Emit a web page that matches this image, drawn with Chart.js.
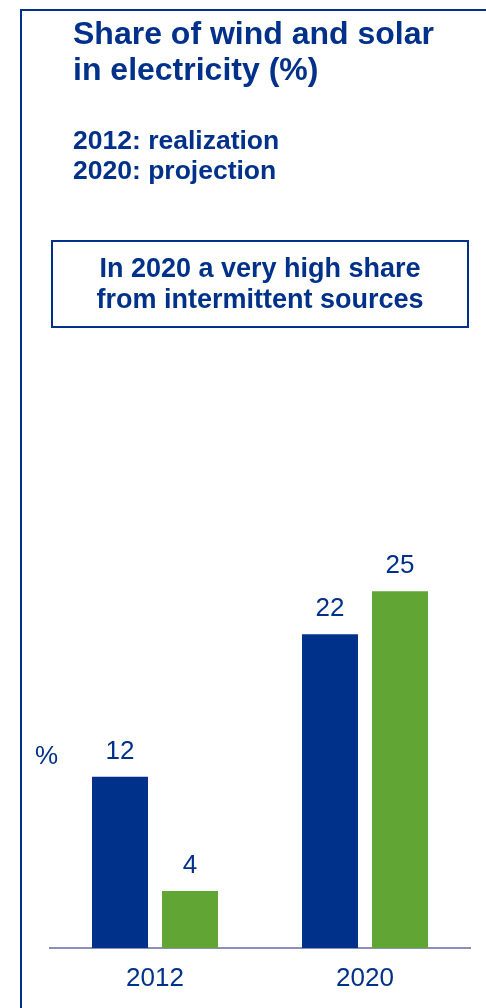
<!DOCTYPE html>
<html>
<head>
<meta charset="utf-8">
<script src="https://cdn.jsdelivr.net/npm/chart.js@4.4.0/dist/chart.umd.min.js"></script>
<style>
  html, body { margin: 0; padding: 0; background: #fff; }
  body { width: 486px; height: 1008px; position: relative; overflow: hidden;
         font-family: "Liberation Sans", Arial, sans-serif; color: #00318a; }
  #frame { position: absolute; left: 20px; top: 9px; width: 600px; height: 1100px;
           border-left: 2px solid #00318a; border-top: 2px solid #00318a; }
  #title { position: absolute; left: 73px; top: 15px; font-size: 32px; font-weight: bold;
           line-height: 36px; margin: 0; }
  #sub { position: absolute; left: 73px; top: 125px; font-size: 26.5px; font-weight: bold;
         line-height: 30px; }
  #note { position: absolute; left: 51px; top: 240px; width: 418px; height: 88px;
          box-sizing: border-box; border: 2px solid #00318a; }
  #note div { position: absolute; left: 0; right: 0; top: 11px; text-align: center;
              font-size: 27px; font-weight: bold; line-height: 31px; }
  #unit { position: absolute; left: 35px; top: 742px; font-size: 26px; line-height: 26px; }
  #wrap { position: absolute; left: 0; top: 0; width: 486px; height: 1008px; }
</style>
</head>
<body>
<div id="wrap"><canvas id="shareChart"></canvas></div>
<div id="frame"></div>
<h1 id="title">Share of wind and solar<br>in electricity (%)</h1>
<div id="sub">2012: realization<br>2020: projection</div>
<div id="note"><div>In 2020 a very high share<br>from intermittent sources</div></div>
<div id="unit">%</div>
<script>
var years = ['2012', '2020'];
var windShare = [12, 22];
var solarShare = [4, 25];

var navy = '#00318a';
var green = '#61a534';
var font = '"Liberation Sans", Arial, sans-serif';

// value above each bar
var barLabels = {
    id: 'barLabels',
    afterDatasetsDraw: function(chart) {
        var ctx = chart.ctx;
        ctx.save();
        ctx.font = '26px ' + font;
        ctx.fillStyle = navy;
        ctx.textAlign = 'center';
        ctx.textBaseline = 'alphabetic';
        chart.data.datasets.forEach(function(ds, i) {
            chart.getDatasetMeta(i).data.forEach(function(bar, j) {
                ctx.fillText(ds.data[j], bar.x, bar.y - 18);
            });
        });
        ctx.restore();
    }
};

var ctx = document.getElementById('shareChart').getContext('2d');
var chart = new Chart(ctx, {
    type: 'bar',
    data: {
        labels: years,
        datasets: [{
            label: 'Wind',
            backgroundColor: navy,
            data: windShare
        }, {
            label: 'Solar',
            backgroundColor: green,
            data: solarShare
        }]
    },
    options: {
        responsive: true,
        maintainAspectRatio: false,
        animation: false,
        categoryPercentage: 0.6667,
        barPercentage: 0.8,
        layout: { padding: { left: 50, right: 16, top: 520, bottom: 0 } },
        plugins: { legend: { display: false }, tooltip: { enabled: false } },
        scales: {
            y: { display: false, min: 0, max: 30 },
            x: {
                grid: { drawOnChartArea: false, drawTicks: false, color: 'transparent' },
                border: { display: true, color: '#8c90b6', width: 2 },
                ticks: { color: navy, font: { family: font, size: 26 }, padding: 15 },
                afterFit: function(scale) { scale.height = 60; }
            }
        }
    },
    plugins: [barLabels]
});
</script>
</body>
</html>
